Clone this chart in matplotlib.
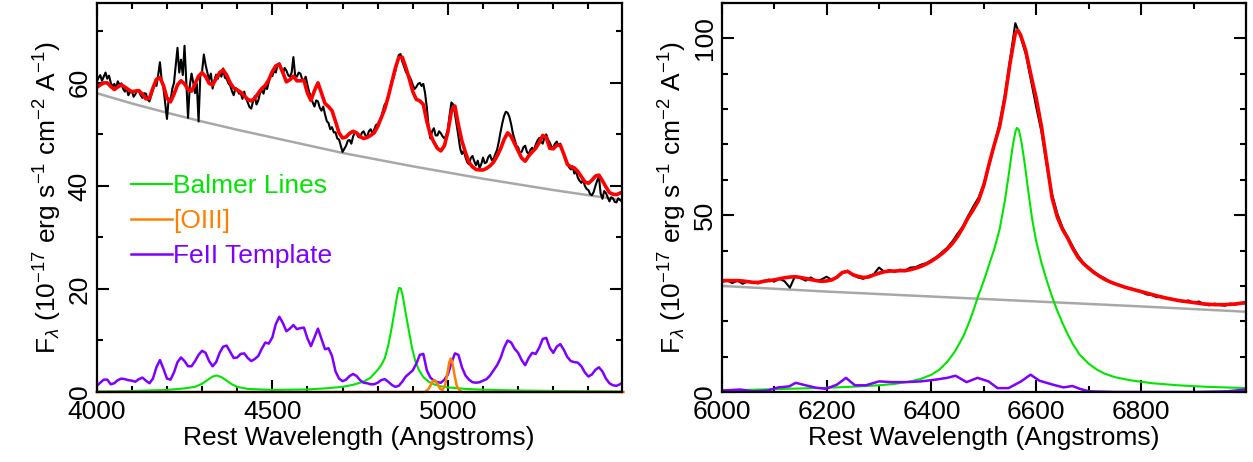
import matplotlib
matplotlib.use("Agg")
import matplotlib.pyplot as plt
from matplotlib.ticker import MultipleLocator

plt.rcParams['font.family'] = ['Liberation Sans', 'DejaVu Sans']
plt.rcParams['mathtext.fontset'] = 'custom'
plt.rcParams['mathtext.rm'] = 'Liberation Sans'
plt.rcParams['mathtext.it'] = 'Liberation Sans:italic'

# ---------------- H-beta region (left panel) ----------------
# observed spectrum, 5 A steps
hb_wave = list(range(4000, 5501, 5))
hb_flux = [60.2, 61.0, 61.5, 60.4, 61.2, 62.0, 60.8, 61.4, 60.0, 59.2,
           59.8, 59.0, 60.3, 59.6, 59.9, 58.9, 58.3, 59.0, 57.6, 58.2,
           58.4, 57.3, 57.8, 58.6, 58.4, 57.6, 57.1, 58.0, 57.9, 56.8,
           56.4, 57.5, 58.6, 59.9, 59.4, 61.5, 64.0, 60.5, 59.0, 56.0,
           53.0, 57.0, 56.5, 58.8, 60.0, 63.5, 66.8, 62.0, 64.5, 61.5,
           67.2, 60.0, 53.2, 59.5, 61.8, 60.0, 58.0, 59.8, 52.5, 61.5,
           62.2, 65.5, 63.5, 62.0, 60.6, 61.8, 58.9, 60.5, 61.6, 60.8,
           62.0, 61.2, 62.8, 61.0, 60.8, 59.9, 59.5, 58.4, 57.6, 59.0,
           58.8, 57.9, 58.0, 56.9, 58.3, 57.0, 56.2, 55.3, 55.0, 56.4,
           57.4, 55.8, 56.6, 58.0, 58.6, 57.9, 59.4, 58.8, 60.2, 61.4,
           61.3, 62.4, 62.0, 63.6, 63.8, 62.6, 61.8, 62.9, 62.4, 61.5,
           61.2, 62.0, 65.0, 61.4, 61.2, 62.0, 61.8, 60.7, 60.4, 61.2,
           59.6, 58.2, 57.3, 56.2, 55.4, 56.6, 56.4, 55.2, 54.6, 55.4,
           53.9, 52.6, 52.2, 51.0, 51.4, 50.4, 50.4, 49.2, 49.0, 47.8,
           46.6, 47.2, 47.8, 48.8, 48.9, 48.2, 49.6, 50.4, 50.2, 49.5,
           49.4, 50.3, 50.6, 49.8, 49.6, 50.6, 51.0, 50.2, 50.9, 51.8,
           52.0, 52.6, 53.2, 54.6, 55.8, 56.2, 57.2, 58.8, 60.4, 61.0,
           62.2, 63.8, 65.4, 65.6, 64.2, 63.2, 62.2, 61.6, 61.3, 60.6,
           59.6, 58.8, 59.2, 59.8, 60.0, 59.4, 59.8, 58.0, 55.2, 51.5,
           49.2, 50.6, 51.2, 49.8, 49.8, 50.6, 50.2, 49.6, 49.2, 49.8,
           51.0, 53.8, 56.2, 55.8, 54.0, 51.8, 49.6, 47.2, 46.2, 46.8,
           45.6, 44.6, 44.2, 45.4, 45.8, 44.8, 44.0, 44.9, 43.5, 44.2,
           45.5, 44.4, 44.6, 45.6, 46.0, 45.0, 45.3, 46.2, 47.0, 48.6,
           50.5, 52.2, 53.6, 54.4, 54.2, 53.4, 52.0, 50.2, 49.0, 47.8,
           47.5, 46.4, 46.6, 47.5, 47.8, 46.6, 46.2, 47.0, 47.4, 46.8,
           48.0, 48.8, 49.3, 48.6, 48.2, 49.4, 50.0, 49.0, 48.4, 47.6,
           47.5, 48.2, 48.6, 47.8, 48.2, 47.0, 46.0, 45.4, 44.5, 43.6,
           43.2, 43.8, 42.4, 42.8, 41.6, 41.0, 40.6, 41.2, 40.0, 39.4,
           39.2, 38.4, 38.2, 38.8, 40.0, 41.0, 41.8, 38.5, 37.5, 39.0,
           38.6, 37.8, 37.0, 37.8, 37.6, 36.9, 36.8, 37.6, 37.3, 37.0,
           37.0]

# best-fit model, 10 A steps
hb_model_wave = list(range(4000, 5501, 10))
hb_model = [59.1, 59.6, 60.0, 60.0, 59.3, 58.7, 59.2, 59.6, 59.2, 58.7,
            58.3, 58.4, 58.5, 57.8, 56.9, 57.0, 59.0, 60.7, 61.0, 59.5,
            57.0, 56.3, 57.8, 59.6, 60.4, 59.8, 58.7, 58.4, 59.8, 61.3,
            62.0, 61.2, 59.9, 59.6, 60.8, 62.0, 62.5, 61.5, 60.0, 59.0,
            58.6, 58.2, 57.5, 56.8, 56.5, 57.0, 58.0, 58.9, 59.5, 60.6,
            62.2, 63.3, 63.6, 62.0, 60.2, 60.6, 61.3, 60.4, 60.4, 60.5,
            58.0, 56.6, 58.5, 60.0, 58.0, 56.0, 55.4, 54.6, 52.5, 50.3,
            49.3, 49.5, 50.2, 50.6, 50.3, 49.6, 49.2, 49.4, 49.8, 50.3,
            51.5, 53.2, 54.9, 57.3, 60.0, 62.8, 64.9, 65.0, 63.0, 60.8,
            58.3, 56.8, 56.5, 55.8, 52.5, 50.0, 48.5, 47.3, 46.8, 47.8,
            50.5, 54.5, 55.5, 51.8, 48.7, 46.5, 44.6, 43.7, 43.2, 43.1,
            43.1, 43.4, 43.9, 44.6, 45.8, 47.2, 49.0, 50.3, 49.6, 48.2,
            46.8, 45.4, 44.8, 45.8, 46.6, 47.3, 48.4, 49.8, 49.4, 47.3,
            47.2, 47.9, 47.9, 46.2, 44.2, 43.7, 43.5, 42.8, 41.8, 40.8,
            40.5, 41.1, 41.9, 42.1, 41.0, 39.8, 38.7, 38.4, 38.3, 38.6,
            38.9]

hb_cont_wave = [4000, 4100, 4200, 4300, 4400, 4500, 4600, 4700,
                4800, 4900, 5000, 5100, 5200, 5300, 5400, 5500]
hb_cont = [58.0, 56.0, 54.2, 52.5, 50.9, 49.4, 47.9, 46.4,
           45.1, 43.8, 42.6, 41.4, 40.3, 39.2, 38.2, 37.2]

hb_balmer_wave = [4000, 4100, 4200, 4250, 4280, 4300, 4315, 4330, 4342, 4355,
                  4370, 4385, 4400, 4430, 4500, 4600, 4650, 4700, 4730, 4760,
                  4780, 4800, 4810, 4820, 4830, 4840, 4850, 4856, 4861, 4866,
                  4871, 4878, 4888, 4898, 4908, 4918, 4930, 4945, 4960, 4980,
                  5000, 5050, 5100, 5200, 5300, 5400, 5500]
hb_balmer = [0.1, 0.2, 0.4, 0.7, 1.0, 1.6, 2.3, 3.0, 3.2, 2.9,
             2.2, 1.5, 1.0, 0.6, 0.4, 0.5, 0.7, 1.0, 1.4, 2.0,
             2.8, 4.3, 5.2, 6.5, 9.0, 12.5, 16.5, 18.9, 20.2, 20.1,
             18.8, 16.0, 12.2, 8.5, 5.8, 4.2, 2.9, 2.0, 1.5, 1.1,
             0.9, 0.6, 0.45, 0.3, 0.2, 0.15, 0.1]

oiii_wave = [4000, 4935, 4945, 4952, 4958, 4963, 4970, 4978, 4985, 4992,
             4999, 5004, 5008, 5012, 5018, 5025, 5033, 5040, 5500]
oiii = [0.0, 0.0, 0.6, 1.5, 2.2, 2.3, 1.6, 0.6, 0.4, 1.3,
        3.8, 5.8, 6.5, 5.9, 3.6, 1.2, 0.3, 0.0, 0.0]

hb_feii_wave = list(range(4000, 5501, 10))
hb_feii = [1.2, 1.8, 2.4, 2.4, 1.5, 1.7, 2.3, 2.6, 2.5, 2.3,
           2.2, 2.0, 2.5, 2.8, 2.2, 1.7, 2.6, 4.8, 6.2, 4.5,
           2.6, 2.4, 3.8, 5.8, 6.7, 6.0, 5.0, 5.0, 6.0, 7.2,
           8.0, 7.6, 6.0, 5.0, 5.8, 7.6, 8.8, 9.0, 7.8, 6.6,
           6.7, 7.4, 7.5, 6.6, 6.0, 6.4, 7.0, 8.4, 9.6, 9.4,
           10.6, 13.2, 14.6, 13.4, 11.8, 12.3, 13.0, 12.2, 12.4, 12.5,
           10.4, 8.9, 10.6, 12.3, 10.3, 8.3, 8.5, 7.0, 4.0, 2.6,
           2.1, 2.4, 3.1, 3.5, 3.1, 2.3, 1.8, 1.7, 1.5, 1.5,
           1.8, 2.3, 2.5, 2.0, 1.4, 1.0, 1.2, 2.0, 3.0, 3.6,
           4.2, 5.5, 7.2, 7.4, 4.2, 2.8, 2.2, 1.9, 1.8, 2.4,
           3.4, 5.6, 7.5, 7.2, 4.8, 3.2, 2.4, 1.9, 1.8, 1.9,
           2.2, 2.5, 3.2, 4.2, 5.2, 6.6, 8.6, 10.0, 9.6, 8.4,
           7.6, 6.2, 5.2, 6.6, 7.6, 7.4, 8.6, 10.3, 10.5, 8.6,
           7.6, 8.8, 9.3, 8.2, 6.8, 6.0, 5.8, 5.7, 5.0, 3.8,
           3.0, 3.4, 4.3, 4.8, 4.0, 2.6, 1.7, 1.3, 1.2, 1.5,
           2.0]

# ---------------- H-alpha region (right panel) ----------------
ha_wave = list(range(6000, 7001, 10))
ha_flux = [31.0, 31.6, 30.8, 31.5, 30.6, 31.3, 31.0, 30.7, 31.4, 31.8,
           31.2, 32.0, 31.3, 29.5, 32.8, 32.2, 31.5, 32.4, 31.4, 31.8,
           32.6, 31.7, 32.5, 33.6, 34.3, 33.0, 32.4, 32.0, 32.8, 33.3,
           35.2, 34.0, 34.5, 34.0, 34.6, 34.4, 35.2, 35.3, 36.0, 36.4,
           37.3, 38.2, 39.5, 40.8, 42.6, 44.8, 46.8, 49.8, 52.5, 55.0,
           59.0, 64.0, 70.0, 76.0, 84.0, 94.0, 104.3, 100.5, 95.5, 88.0,
           80.5, 73.5, 64.0, 56.0, 50.5, 46.5, 43.8, 41.0, 38.5, 36.5,
           35.2, 34.0, 32.9, 32.2, 31.2, 30.6, 30.2, 29.5, 29.2, 28.7,
           28.3, 27.6, 27.4, 26.8, 27.0, 26.4, 26.2, 26.0, 25.5, 25.9,
           25.2, 25.6, 24.8, 24.5, 25.0, 24.6, 24.4, 25.0, 24.7, 25.2,
           25.0]

ha_model_wave = list(range(6000, 6561, 10)) + [6565] + list(range(6570, 7001, 10))
ha_model = [31.5, 31.5, 31.5, 31.5, 31.4, 31.2, 31.0, 31.0, 31.3, 31.5,
            31.7, 32.0, 32.3, 32.5, 32.6, 32.4, 32.1, 31.8, 31.5, 31.3,
            31.4, 31.7, 32.5, 33.8, 34.1, 33.2, 32.7, 32.4, 32.5, 33.1,
            33.6, 34.0, 34.2, 34.2, 34.3, 34.3, 34.6, 35.0, 35.5, 36.2,
            37.0, 38.0, 39.1, 40.4, 42.0, 44.0, 46.5, 49.3, 51.6, 54.2,
            58.5, 64.5, 70.0, 75.0, 83.0, 93.0, 101.5, 102.2, 101.0, 96.5,
            89.5, 83.0, 75.0, 65.0, 55.0, 49.5, 46.0, 43.5, 40.5, 38.0,
            36.3, 35.0, 33.8, 32.8, 31.9, 31.2, 30.6, 30.1, 29.6, 29.2,
            28.8, 28.4, 28.0, 27.6, 27.2, 26.8, 26.5, 26.2, 25.9, 25.7,
            25.5, 25.3, 25.1, 24.9, 24.8, 24.7, 24.7, 24.7, 24.8, 24.9,
            25.1, 25.3]

ha_cont_wave = [6000, 6200, 6400, 6600, 6800, 7000]
ha_cont = [30.0, 28.4, 27.0, 25.6, 24.2, 22.7]

ha_balmer_wave = [6000, 6050, 6100, 6150, 6200, 6250, 6300, 6330, 6360, 6380,
                  6400, 6415, 6430, 6445, 6460, 6470, 6480, 6490, 6500, 6510,
                  6520, 6530, 6540, 6548, 6555, 6560, 6563, 6567, 6572, 6578,
                  6585, 6592, 6600, 6610, 6620, 6630, 6640, 6650, 6660, 6670,
                  6683, 6700, 6715, 6730, 6750, 6780, 6820, 6870, 6920, 6960,
                  7000]
ha_balmer = [0.5, 0.6, 0.8, 1.0, 1.2, 1.5, 1.9, 2.3, 3.0, 3.7,
             4.9, 6.3, 8.5, 11.5, 15.5, 19.0, 23.0, 27.5, 31.5, 36.0,
             40.5, 46.0, 54.0, 62.0, 69.5, 73.5, 74.7, 74.0, 70.5, 64.5,
             56.5, 49.0, 42.5, 36.5, 31.5, 27.0, 23.0, 19.5, 16.3, 13.5,
             10.5, 8.0, 6.4, 5.2, 4.2, 3.3, 2.5, 1.9, 1.5, 1.3,
             1.1]

ha_feii_wave = [6000, 6035, 6059, 6087, 6108, 6129, 6141, 6160, 6180, 6199,
                6220, 6237, 6254, 6275, 6300, 6324, 6352, 6380, 6408, 6430,
                6446, 6467, 6488, 6509, 6526, 6547, 6571, 6589, 6606, 6631,
                6652, 6669, 6683, 6700, 6750, 6826, 6900, 6965, 7000]
ha_feii = [0.4, 0.7, 0.2, 0.4, 1.3, 1.6, 2.6, 1.9, 1.2, 0.9,
           2.1, 4.0, 1.9, 1.9, 3.0, 2.8, 2.8, 3.0, 3.5, 4.0,
           4.6, 2.8, 4.0, 3.0, 1.1, 1.1, 3.0, 4.9, 3.2, 2.1,
           1.3, 1.7, 0.9, 0.2, 0.0, 0.0, 0.0, 0.2, 0.7]

GREEN = '#00e600'
ORANGE = '#ff8000'
PURPLE = '#7f00ff'
GRAY = '#a8a8a8'
RED = '#ff0000'
FS = 19

ylabel = (r'F$_{\lambda}$ (10$^{\mathregular{-17}}$ erg s$^{\mathregular{-1}}$ '
          r'cm$^{\mathregular{-2}}$ A$^{\mathregular{-1}}$)')

fig = plt.figure(figsize=(12.53, 4.62), dpi=100)
ax1 = fig.add_axes([0.0772, 0.1515, 0.419, 0.842])
ax2 = fig.add_axes([0.576, 0.1515, 0.4184, 0.842])


def style_axis(ax, xmaj, xmin, ymaj, ymin):
    ax.xaxis.set_major_locator(MultipleLocator(xmaj))
    ax.xaxis.set_minor_locator(MultipleLocator(xmin))
    ax.yaxis.set_major_locator(MultipleLocator(ymaj))
    ax.yaxis.set_minor_locator(MultipleLocator(ymin))
    ax.tick_params(which='both', direction='in', top=True, right=True,
                   width=1.5, labelsize=FS)
    ax.tick_params(which='major', length=8.5)
    ax.tick_params(which='minor', length=4.5)
    ax.tick_params(axis='x', pad=6)
    for lab in ax.get_yticklabels():
        lab.set_rotation(90)
        lab.set_va('center')
    for sp in ax.spines.values():
        sp.set_linewidth(1.6)
    ax.set_xlabel('Rest Wavelength (Angstroms)', fontsize=FS, labelpad=1)
    ax.set_ylabel(ylabel, fontsize=FS, labelpad=3)


# left panel
ax1.plot(hb_cont_wave, hb_cont, color=GRAY, lw=1.8)
ax1.plot(hb_wave, hb_flux, color='black', lw=1.5)
ax1.plot(hb_model_wave, hb_model, color=RED, lw=2.6)
l1, = ax1.plot(hb_balmer_wave, hb_balmer, color=GREEN, lw=1.5, label='Balmer Lines')
l3, = ax1.plot(hb_feii_wave, hb_feii, color=PURPLE, lw=1.8, label='FeII Template')
l2, = ax1.plot(oiii_wave, oiii, color=ORANGE, lw=1.8, label='[OIII]', clip_on=False)
ax1.set_xlim(4000, 5495)
ax1.set_ylim(0, 75.5)
style_axis(ax1, 500, 100, 20, 10)
ax1.legend(handles=[l1, l2, l3], loc='upper left', bbox_to_anchor=(0.065, 0.56),
           frameon=False, fontsize=FS, handlelength=1.55, handletextpad=0.05,
           labelspacing=0.42, borderpad=0, borderaxespad=0, labelcolor='linecolor')

# right panel
ax2.plot(ha_cont_wave, ha_cont, color=GRAY, lw=1.8)
ax2.plot(ha_wave, ha_flux, color='black', lw=1.5)
ax2.plot(ha_model_wave, ha_model, color=RED, lw=2.6)
ax2.plot(ha_balmer_wave, ha_balmer, color=GREEN, lw=1.5)
ax2.plot(ha_feii_wave, ha_feii, color=PURPLE, lw=1.8)
ax2.set_xlim(6000, 7000)
ax2.set_ylim(0, 110)
style_axis(ax2, 200, 100, 50, 10)
ax2.set_xticks([6000, 6200, 6400, 6600, 6800])

fig.savefig('out.png', dpi=100)
